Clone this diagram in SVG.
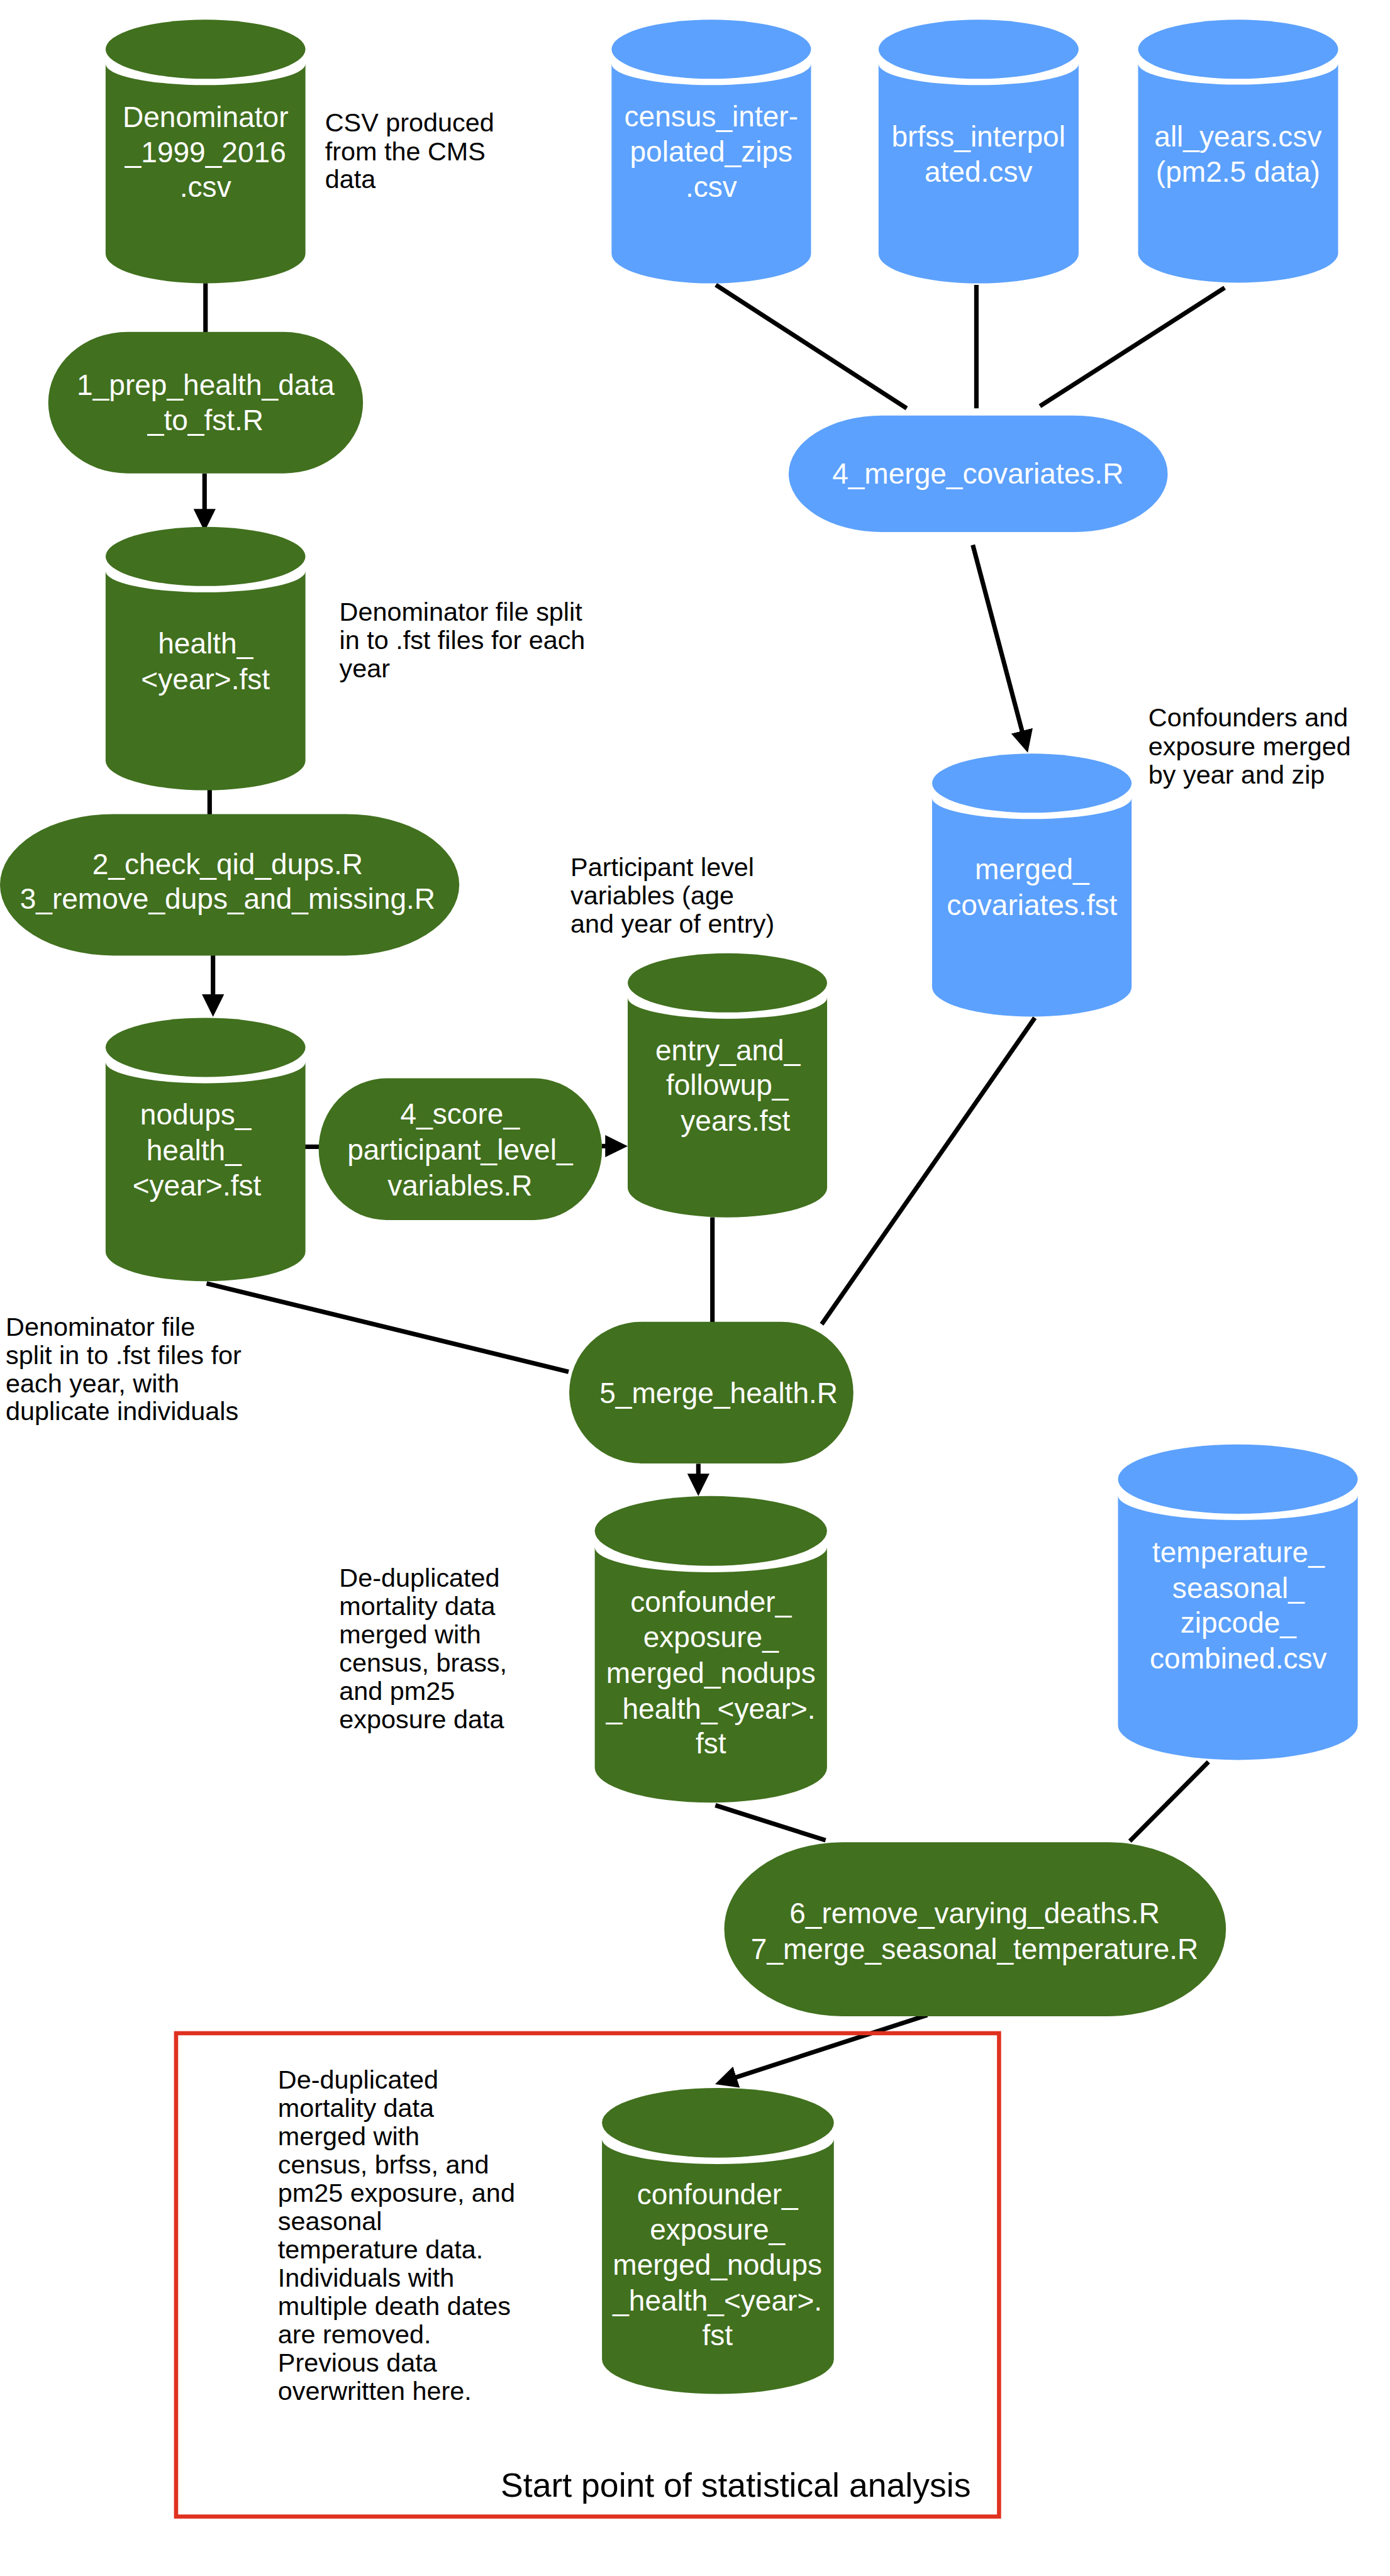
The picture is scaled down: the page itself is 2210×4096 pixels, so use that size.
<svg xmlns="http://www.w3.org/2000/svg" width="2210" height="4096" viewBox="0 0 2210 4096">
<defs>
<style>
.g{fill:#41701e}
.b{fill:#5ca1fd}
.t{font-family:"Liberation Sans",Arial,Helvetica,sans-serif;font-size:49px;fill:#ffffff;text-anchor:middle}
.l{font-family:"Liberation Sans",Arial,Helvetica,sans-serif;font-size:44px;fill:#000000}
.c{stroke:#000000;stroke-width:7.6;fill:none}
</style>
<marker id="ah" viewBox="0 0 38 37.5" refX="24" refY="18.75" markerWidth="38" markerHeight="37.5" markerUnits="userSpaceOnUse" orient="auto">
<path d="M0,0 L38,18.75 L0,37.5 Z" fill="#000000"/>
</marker>
</defs>
<rect x="0" y="0" width="2210" height="4096" fill="#ffffff"/>
<g transform="scale(0.94)">

<g id="connectors">
<line class="c" x1="347.6" y1="479" x2="347.6" y2="562"/>
<line class="c" x1="346" y1="801" x2="346" y2="885" marker-end="url(#ah)"/>
<line class="c" x1="354.6" y1="1336" x2="354.6" y2="1378"/>
<line class="c" x1="360.3" y1="1616" x2="360.3" y2="1706" marker-end="url(#ah)"/>
<line class="c" x1="1210.8" y1="482" x2="1533.6" y2="690.6"/>
<line class="c" x1="1651.5" y1="482" x2="1651.5" y2="690.6"/>
<line class="c" x1="2071.4" y1="486.8" x2="1759" y2="687"/>
<line class="c" x1="1645.4" y1="921.8" x2="1734.8" y2="1259.5" marker-end="url(#ah)"/>
<line class="c" x1="508" y1="1939.8" x2="540" y2="1939.8"/>
<line class="c" x1="1018" y1="1938.7" x2="1047.7" y2="1938.7" marker-end="url(#ah)"/>
<line class="c" x1="349.5" y1="2171" x2="961.7" y2="2320.4"/>
<line class="c" x1="1205" y1="2059" x2="1205" y2="2246"/>
<line class="c" x1="1750.3" y1="1721.7" x2="1389.8" y2="2240"/>
<line class="c" x1="1181.2" y1="2476" x2="1181.2" y2="2516.7" marker-end="url(#ah)"/>
<line class="c" x1="1210" y1="3053.7" x2="1396.4" y2="3113"/>
<line class="c" x1="2044" y1="2980.4" x2="1911" y2="3114.3"/>
<line class="c" x1="1568.3" y1="3408.7" x2="1222.8" y2="3521.1" marker-end="url(#ah)"/>
</g>

<g id="denominator">
<path class="g" d="M178.6,108.3 L178.6,429.3 A169,50 0 0 0 516.6,429.3 L516.6,108.3 A169,35.7 0 0 1 178.6,108.3 Z"/>
<ellipse class="g" cx="347.6" cy="83.3" rx="169" ry="50"/>
<text class="t"><tspan x="347.6" y="215">Denominator</tspan><tspan x="347.6" y="274">_1999_2016</tspan><tspan x="347.6" y="333">.csv</tspan></text>
</g>

<g id="census">
<path class="b" d="M1034.4,108.3 L1034.4,429.3 A168.7,50 0 0 0 1371.8,429.3 L1371.8,108.3 A168.7,35.7 0 0 1 1034.4,108.3 Z"/>
<ellipse class="b" cx="1203.1" cy="83.3" rx="168.7" ry="50"/>
<text class="t"><tspan x="1203" y="213.5">census_inter-</tspan><tspan x="1203" y="273.8">polated_zips</tspan><tspan x="1203" y="333">.csv</tspan></text>
</g>

<g id="brfss">
<path class="b" d="M1486,108.3 L1486,429.3 A169.2,50 0 0 0 1824.4,429.3 L1824.4,108.3 A169.2,35.7 0 0 1 1486,108.3 Z"/>
<ellipse class="b" cx="1655.2" cy="83.3" rx="169.2" ry="50"/>
<text class="t"><tspan x="1655" y="248">brfss_interpol</tspan><tspan x="1655" y="307">ated.csv</tspan></text>
</g>

<g id="allyears">
<path class="b" d="M1925,108.3 L1925,429.3 A169.2,50 0 0 0 2263.3,429.3 L2263.3,108.3 A169.2,35.7 0 0 1 1925,108.3 Z"/>
<ellipse class="b" cx="2094.2" cy="83.3" rx="169.2" ry="50"/>
<text class="t"><tspan x="2094" y="248">all_years.csv</tspan><tspan x="2094" y="307">(pm2.5 data)</tspan></text>
</g>

<g id="prep">
<rect class="g" x="81.6" y="561.4" width="532.4" height="239.4" rx="134" ry="119.7"/>
<text class="t"><tspan x="347.8" y="667.6">1_prep_health_data</tspan><tspan x="347.8" y="728">_to_fst.R</tspan></text>
</g>

<g id="mergecov">
<rect class="b" x="1334" y="703" width="641" height="197" rx="158" ry="98.5"/>
<text class="t" x="1654" y="818">4_merge_covariates.R</text>
</g>

<g id="health">
<path class="g" d="M178.6,966.3 L178.6,1286.8 A169,50 0 0 0 516.6,1286.8 L516.6,966.3 A169,35.7 0 0 1 178.6,966.3 Z"/>
<ellipse class="g" cx="347.6" cy="941.3" rx="169" ry="50"/>
<text class="t"><tspan x="347.6" y="1105.5">health_</tspan><tspan x="347.6" y="1165.7">&lt;year&gt;.fst</tspan></text>
</g>

<g id="mergedcov">
<path class="b" d="M1576.6,1349.8 L1576.6,1669.7 A168.7,50 0 0 0 1914,1669.7 L1914,1349.8 A168.7,35.7 0 0 1 1576.6,1349.8 Z"/>
<ellipse class="b" cx="1745.3" cy="1324.8" rx="168.7" ry="50"/>
<text class="t"><tspan x="1745.5" y="1487">merged_</tspan><tspan x="1745.5" y="1547.5">covariates.fst</tspan></text>
</g>

<g id="checkdups">
<rect class="g" x="0" y="1377" width="776.8" height="239.4" rx="192" ry="119.7"/>
<text class="t"><tspan x="385" y="1478.6">2_check_qid_dups.R</tspan><tspan x="385" y="1537.7">3_remove_dups_and_missing.R</tspan></text>
</g>

<g id="nodups">
<path class="g" d="M178.6,1796.7 L178.6,2117.2 A169,50 0 0 0 516.6,2117.2 L516.6,1796.7 A169,35.7 0 0 1 178.6,1796.7 Z"/>
<ellipse class="g" cx="347.6" cy="1771.7" rx="169" ry="50"/>
<text class="t"><tspan x="331" y="1902.5">nodups_</tspan><tspan x="328" y="1962.8">health_</tspan><tspan x="333" y="2022">&lt;year&gt;.fst</tspan></text>
</g>

<g id="score">
<rect class="g" x="539" y="1823.9" width="479.3" height="239.9" rx="115" ry="120"/>
<text class="t"><tspan x="778" y="1901.4">4_score_</tspan><tspan x="778" y="1961.7">participant_level_</tspan><tspan x="778" y="2022">variables.R</tspan></text>
</g>

<g id="entry">
<path class="g" d="M1061.7,1687.6 L1061.7,2009.2 A168.65,50 0 0 0 1399,2009.2 L1399,1687.6 A168.65,35.7 0 0 1 1061.7,1687.6 Z"/>
<ellipse class="g" cx="1230.35" cy="1662.6" rx="168.65" ry="50"/>
<text class="t"><tspan x="1231" y="1794">entry_and_</tspan><tspan x="1230" y="1852.6">followup_</tspan><tspan x="1244" y="1912.9">years.fst</tspan></text>
</g>

<g id="mergehealth">
<rect class="g" x="962.8" y="2236" width="480.6" height="239.4" rx="122" ry="119.7"/>
<text class="t" x="1215.6" y="2373.8">5_merge_health.R</text>
</g>

<g id="confounder1">
<path class="g" d="M1006,2617.4 L1006,2990.2 A196.4,59 0 0 0 1398.8,2990.2 L1398.8,2617.4 A196.4,42.1 0 0 1 1006,2617.4 Z"/>
<ellipse class="g" cx="1202.4" cy="2589.7" rx="196.4" ry="59"/>
<text class="t"><tspan x="1202.4" y="2726.5">confounder_</tspan><tspan x="1202.4" y="2785.8">exposure_</tspan><tspan x="1202.4" y="2846.4">merged_nodups</tspan><tspan x="1202.4" y="2907">_health_&lt;year&gt;.</tspan><tspan x="1202.4" y="2966.3">fst</tspan></text>
</g>

<g id="temperature">
<path class="b" d="M1891,2529.5 L1891,2918.4 A202.75,58.6 0 0 0 2296.5,2918.4 L2296.5,2529.5 A202.75,41.9 0 0 1 1891,2529.5 Z"/>
<ellipse class="b" cx="2093.75" cy="2502" rx="202.75" ry="58.6"/>
<text class="t"><tspan x="2094.5" y="2642.3">temperature_</tspan><tspan x="2094.5" y="2703">seasonal_</tspan><tspan x="2094.5" y="2762">zipcode_</tspan><tspan x="2094.5" y="2822">combined.csv</tspan></text>
</g>

<g id="removedeaths">
<rect class="g" x="1225" y="3116.2" width="848.6" height="294.4" rx="200" ry="147.2"/>
<text class="t"><tspan x="1648.5" y="3253.3">6_remove_varying_deaths.R</tspan><tspan x="1648.5" y="3313.3">7_merge_seasonal_temperature.R</tspan></text>
</g>

<g id="startbox">
<rect x="297.8" y="3439.3" width="1392" height="817.6" fill="none" stroke="#df3120" stroke-width="7"/>
<text class="l" style="font-size:57px;text-anchor:end" x="1642" y="4223.7">Start point of statistical analysis</text>
</g>

<g id="confounder2">
<path class="g" d="M1018.2,3618.5 L1018.2,3990.6 A196.1,59 0 0 0 1410.4,3990.6 L1410.4,3618.5 A196.1,42.1 0 0 1 1018.2,3618.5 Z"/>
<ellipse class="g" cx="1214.3" cy="3590.8" rx="196.1" ry="59"/>
<text class="t"><tspan x="1213.5" y="3728.2">confounder_</tspan><tspan x="1213.5" y="3788.8">exposure_</tspan><tspan x="1213.5" y="3847.4">merged_nodups</tspan><tspan x="1213.5" y="3908">_health_&lt;year&gt;.</tspan><tspan x="1213.5" y="3967.3">fst</tspan></text>
</g>

<g id="labels">
<text class="l"><tspan x="549.7" y="222.7">CSV produced</tspan><tspan x="549.7" y="271">from the CMS</tspan><tspan x="549.7" y="318.6">data</tspan></text>
<text class="l"><tspan x="574" y="1049.8">Denominator file split</tspan><tspan x="574" y="1098">in to .fst files for each</tspan><tspan x="574" y="1145.6">year</tspan></text>
<text class="l"><tspan x="965" y="1481.5">Participant level</tspan><tspan x="965" y="1530">variables (age</tspan><tspan x="965" y="1578">and year of entry)</tspan></text>
<text class="l"><tspan x="1942.4" y="1228.9">Confounders and</tspan><tspan x="1942.4" y="1277.7">exposure merged</tspan><tspan x="1942.4" y="1325.3">by year and zip</tspan></text>
<text class="l"><tspan x="9.6" y="2260">Denominator file</tspan><tspan x="9.6" y="2307">split in to .fst files for</tspan><tspan x="9.6" y="2355">each year, with</tspan><tspan x="9.6" y="2402.5">duplicate individuals</tspan></text>
<text class="l"><tspan x="573.8" y="2683.8">De-duplicated</tspan><tspan x="573.8" y="2731.6">mortality data</tspan><tspan x="573.8" y="2779.5">merged with</tspan><tspan x="573.8" y="2827.3">census, brass,</tspan><tspan x="573.8" y="2875">and pm25</tspan><tspan x="573.8" y="2923">exposure data</tspan></text>
<text class="l"><tspan x="470" y="3533">De-duplicated</tspan><tspan x="470" y="3580.9">mortality data</tspan><tspan x="470" y="3628.7">merged with</tspan><tspan x="470" y="3676.5">census, brfss, and</tspan><tspan x="470" y="3724.4">pm25 exposure, and</tspan><tspan x="470" y="3772.2">seasonal</tspan><tspan x="470" y="3820.7">temperature data.</tspan><tspan x="470" y="3868.5">Individuals with</tspan><tspan x="470" y="3916.3">multiple death dates</tspan><tspan x="470" y="3964.2">are removed.</tspan><tspan x="470" y="4012">Previous data</tspan><tspan x="470" y="4059.8">overwritten here.</tspan></text>
</g>

</g>
</svg>
